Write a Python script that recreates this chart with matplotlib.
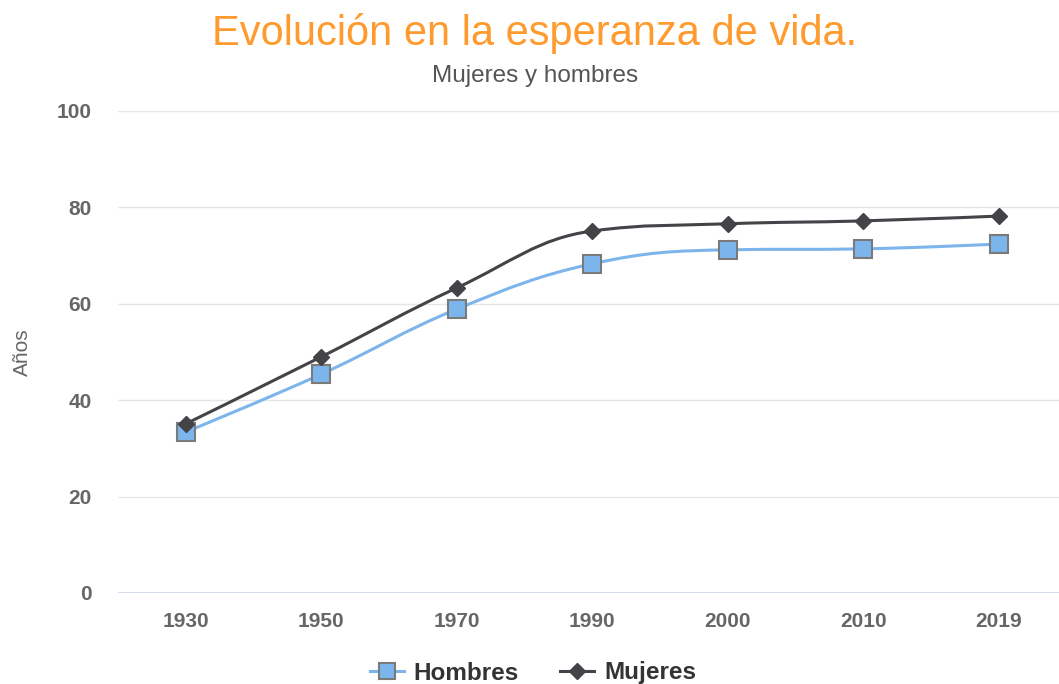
import matplotlib
matplotlib.use("Agg")
import matplotlib.pyplot as plt
from matplotlib.path import Path
from matplotlib.patches import PathPatch
from matplotlib.lines import Line2D

categories = ["1930", "1950", "1970", "1990", "2000", "2010", "2019"]
hombres = [33.4, 45.4, 58.9, 68.3, 71.2, 71.4, 72.4]
mujeres = [35.1, 49.0, 63.3, 75.1, 76.6, 77.2, 78.2]

title = "Evolución en la esperanza de vida."
subtitle = "Mujeres y hombres"
ylabel = "Años"

plt.rcParams['font.family'] = ['Liberation Sans', 'DejaVu Sans']

W, H = 1059, 684
fig = plt.figure(figsize=(W / 100, H / 100), dpi=100)
left_px, right_px, top_px, bot_px = 118, 1059, 111, 593
ax = fig.add_axes([left_px / W, 1 - bot_px / H, (right_px - left_px) / W, (bot_px - top_px) / H])

xs = list(range(len(categories)))
step = 135.5
ax.set_xlim(-0.5, -0.5 + (right_px - left_px) / step)
ax.set_ylim(0, 100)


def spline_path(x, y, smoothing=1.5):
    n = len(x)
    denom = smoothing + 1
    lc = [None] * n
    rc = [None] * n
    for i in range(n):
        if i == 0 or i == n - 1:
            lc[i] = (x[i], y[i])
            rc[i] = (x[i], y[i])
            continue
        lx, ly = x[i - 1], y[i - 1]
        nx, ny = x[i + 1], y[i + 1]
        px, py = x[i], y[i]
        lcx = (smoothing * px + lx) / denom
        lcy = (smoothing * py + ly) / denom
        rcx = (smoothing * px + nx) / denom
        rcy = (smoothing * py + ny) / denom
        if rcx != lcx:
            corr = ((rcy - lcy) * (rcx - px)) / (rcx - lcx) + py - rcy
            lcy += corr
            rcy += corr
        if lcy > ly and lcy > py:
            lcy = max(ly, py)
            rcy = 2 * py - lcy
        elif lcy < ly and lcy < py:
            lcy = min(ly, py)
            rcy = 2 * py - lcy
        if rcy > ny and rcy > py:
            rcy = max(ny, py)
            lcy = 2 * py - rcy
        elif rcy < ny and rcy < py:
            rcy = min(ny, py)
            lcy = 2 * py - rcy
        lc[i] = (lcx, lcy)
        rc[i] = (rcx, rcy)
    verts = [(x[0], y[0])]
    codes = [Path.MOVETO]
    for i in range(1, n):
        verts += [rc[i - 1], lc[i], (x[i], y[i])]
        codes += [Path.CURVE4] * 3
    return Path(verts, codes)


# grid
for v in [20, 40, 60, 80, 100]:
    ax.axhline(v, color='#e6e6e6', lw=1, zorder=0)
ax.axhline(0, color='#ccd6eb', lw=1.2, zorder=1)

blue = '#7cb5ec'
dark = '#434348'
ax.add_patch(PathPatch(spline_path(xs, hombres), fill=False, edgecolor=blue, lw=2.2, zorder=2))
ax.add_patch(PathPatch(spline_path(xs, mujeres), fill=False, edgecolor=dark, lw=2.2, zorder=3))
ax.plot(xs, hombres, ls='none', marker='s', ms=12.5, mfc=blue, mec='#7a7a7a', mew=1.5, zorder=4)
ax.plot(xs, mujeres, ls='none', marker='D', ms=8.5, mfc=dark, mec=dark, zorder=5)

for s in ax.spines.values():
    s.set_visible(False)
ax.set_xticks(xs)
ax.set_xticklabels(categories)
ax.set_yticks([0, 20, 40, 60, 80, 100])
ax.tick_params(axis='both', length=0, labelsize=15, colors='#666666')
ax.tick_params(axis='x', pad=14)
ax.tick_params(axis='y', pad=19)
for lab in ax.get_xticklabels() + ax.get_yticklabels():
    lab.set_fontweight('bold')
    lab.set_color('#666666')

fig.text(22 / W, 1 - 352 / H, ylabel, rotation=90, ha='center', va='center', color='#666666', fontsize=15)
fig.text(535 / W, 1 - 33 / H, title, ha='center', va='center', color='#ff9a2e', fontsize=30)
fig.text(535 / W, 1 - 76 / H, subtitle, ha='center', va='center', color='#555555', fontsize=17.5)

h1 = Line2D([], [], color=blue, lw=2.2, marker='s', ms=11, mfc=blue, mec='#7a7a7a', mew=1.5)
h2 = Line2D([], [], color=dark, lw=2.2, marker='D', ms=8, mfc=dark, mec=dark)
leg = fig.legend([h1, h2], ["Hombres", "Mujeres"], loc='center', bbox_to_anchor=(533 / W, 1 - 673 / H),
                 ncol=2, frameon=False, handlelength=1.4, columnspacing=1.7, handletextpad=0.4,
                 borderpad=0.1, prop={'size': 17.5, 'weight': 'bold'})
for t in leg.get_texts():
    t.set_color('#333333')

fig.savefig('out.png', dpi=100)
